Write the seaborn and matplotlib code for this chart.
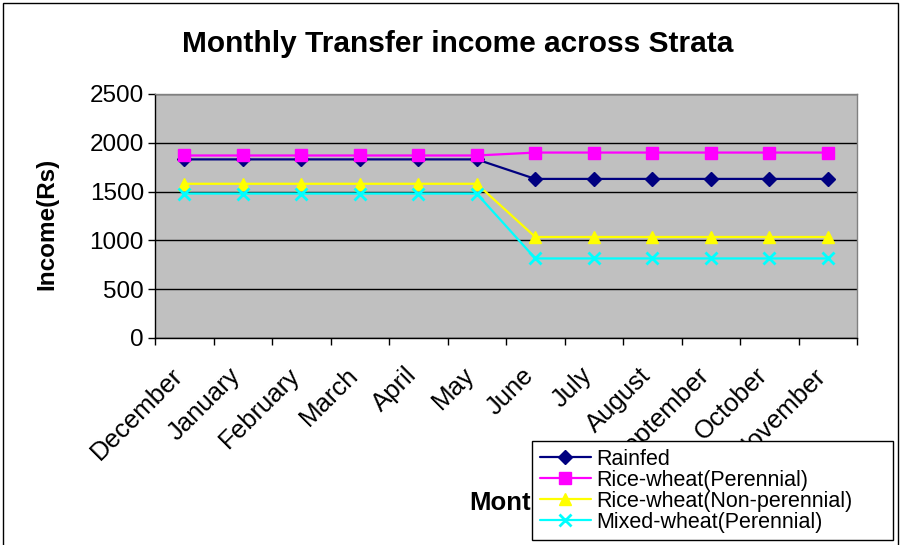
import matplotlib
matplotlib.use("Agg")
import matplotlib.pyplot as plt
import matplotlib.transforms as mtransforms
import seaborn as sns
import pandas as pd
from matplotlib.patches import Rectangle

months = ["December", "January", "February", "March", "April", "May",
          "June", "July", "August", "September", "October", "November"]
rainfed = [1830, 1830, 1830, 1830, 1830, 1830, 1630, 1630, 1630, 1630, 1630, 1630]
rw_perennial = [1870, 1870, 1870, 1870, 1870, 1870, 1900, 1900, 1900, 1900, 1900, 1900]
rw_nonperennial = [1580, 1580, 1580, 1580, 1580, 1580, 1035, 1035, 1035, 1035, 1035, 1035]
mixed_perennial = [1480, 1480, 1480, 1480, 1480, 1480, 815, 815, 815, 815, 815, 815]
yticks = [0, 500, 1000, 1500, 2000, 2500]

series = [
    ("Rainfed", rainfed, "#000080", "D", 7),
    ("Rice-wheat(Perennial)", rw_perennial, "#FF00FF", "s", 9),
    ("Rice-wheat(Non-perennial)", rw_nonperennial, "#FFFF00", "^", 9),
    ("Mixed-wheat(Perennial)", mixed_perennial, "#00FFFF", "x", 9),
]

sns.set_style("white")
plt.rcParams["font.family"] = ["Liberation Sans", "DejaVu Sans"]
plt.rcParams["text.color"] = "black"
plt.rcParams["xtick.color"] = "black"
plt.rcParams["ytick.color"] = "black"
plt.rcParams["axes.labelcolor"] = "black"

fig = plt.figure(figsize=(9.02, 5.45), dpi=100)
W, H = 902, 545
ax = fig.add_axes([155 / W, 1 - 338 / H, (857 - 155) / W, (338 - 94) / H])
ax.set_facecolor("#C0C0C0")

idx = list(range(len(months)))
for name, vals, col, mk, ms in series:
    df = pd.DataFrame({"x": idx, "y": vals})
    sns.lineplot(data=df, x="x", y="y", ax=ax, color=col, marker=mk,
                 markersize=ms, linewidth=1.6, label=name, legend=False,
                 markeredgecolor=col, markeredgewidth=2 if mk == "x" else 1)

ax.set_xlim(-0.5, len(months) - 0.5)
ax.set_ylim(0, 2500)
ax.set_yticks(yticks)
ax.set_yticklabels([str(v) for v in yticks], fontsize=17.5, color="black")
ax.yaxis.grid(True, color="black", linewidth=1)
ax.xaxis.grid(False)
ax.set_axisbelow(True)

ax.set_xticks(idx)
ax.set_xticklabels(months, rotation=45, ha="right", rotation_mode="anchor",
                   fontsize=18.5, color="black")
ax.set_xticks([i - 0.5 for i in range(len(months) + 1)], minor=True)
ax.tick_params(axis="x", which="major", length=0, pad=18)
ax.tick_params(axis="x", which="minor", length=5, color="black", width=1, direction="out", bottom=True)
ax.tick_params(axis="y", which="major", length=5, color="black", width=1, direction="out", left=True, pad=3)
offset = mtransforms.ScaledTranslation(-14 / 100, 0, fig.dpi_scale_trans)
for lbl in ax.get_xticklabels():
    lbl.set_transform(lbl.get_transform() + offset)

for s in ["top", "right"]:
    ax.spines[s].set_color("#808080")
    ax.spines[s].set_linewidth(1)
for s in ["left", "bottom"]:
    ax.spines[s].set_color("black")
    ax.spines[s].set_linewidth(1)

ax.set_xlabel("")
ax.set_ylabel("")
fig.text(47 / W, 1 - 224 / H, "Income(Rs)", rotation=90, ha="center", va="center",
         fontsize=17.5, fontweight="bold", color="black")
fig.text(508 / W, 1 - 503 / H, "Month", ha="center", va="center",
         fontsize=18.5, fontweight="bold", color="black")
fig.text(458 / W, 1 - 44 / H, "Monthly Transfer income across Strata", ha="center",
         va="center", fontsize=21.5, fontweight="bold", color="black")

handles, labels = ax.get_legend_handles_labels()
leg = fig.legend(handles, labels, loc="upper left",
                 bbox_to_anchor=(532 / W, 0, (893 - 532) / W, 1 - 441 / H),
                 mode="expand", fontsize=15.5,
                 frameon=True, fancybox=False, framealpha=1, edgecolor="black",
                 borderpad=0.35, labelspacing=0.0, handlelength=2.4,
                 handletextpad=0.25, borderaxespad=0)
leg.get_frame().set_linewidth(1)
for t in leg.get_texts():
    t.set_color("black")

fig.patches.append(Rectangle((3 / W, -0.05), (898 - 3) / W, 1.05 - 3 / H,
                             transform=fig.transFigure, fill=False,
                             edgecolor="black", linewidth=1))

fig.savefig("out.png", dpi=100)
